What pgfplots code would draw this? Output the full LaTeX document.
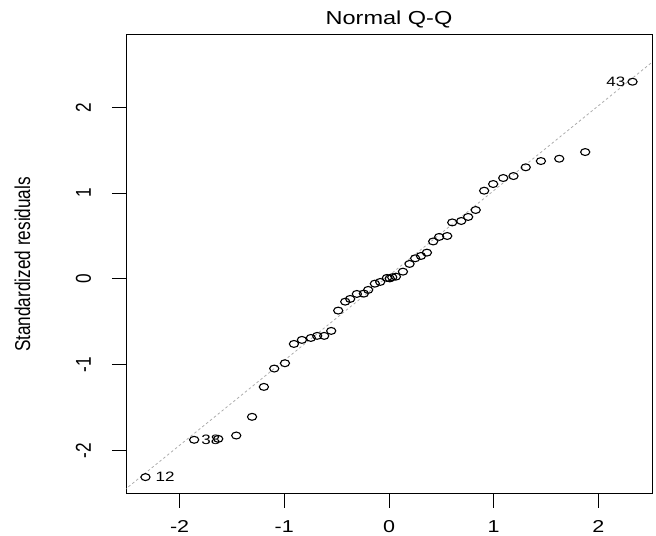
\documentclass[border=0pt]{standalone}
\usepackage{fontspec}
\setmainfont{Liberation Sans}
\usepackage{pgfplots}
\pgfplotsset{compat=1.18}

% R's device squashes text vertically a bit, hence the scales below
\newcommand\rfont{\fontsize{21.5bp}{25bp}\selectfont}
\newcommand\tfont{\fontsize{23.5bp}{27bp}\selectfont}
\newcommand\lfont{\fontsize{17bp}{19bp}\selectfont}

\begin{document}
\begin{tikzpicture}
\path (0,0) rectangle (656bp,536bp);
\begin{axis}[
    at={(126bp,42bp)}, anchor=south west,
    scale only axis, width=526bp, height=459bp,
    xmin=-2.512, xmax=2.512, ymin=-2.508, ymax=2.845,
    xtick={-2,-1,0,1,2}, xticklabels={-2,-1,0,1,2},
    ytick={-2,-1,0,1,2}, yticklabels={-2,-1,0,1,2},
    tick align=outside, tick pos=left,
    major tick length=14bp,
    every tick/.style={black, line width=1bp},
    axis line style={line width=1bp},
    ticklabel style={font=\rfont},
    xticklabel style={yshift=-24bp, anchor=base, yscale=0.8},
    yticklabel style={xshift=-21bp, rotate=90, anchor=base, xscale=0.8},
    title={Normal Q-Q},
    title style={font=\tfont, at={(0.5,1)}, anchor=base, yshift=4.4bp, yscale=0.8},
    ylabel={Standardized residuals},
    ylabel style={font=\rfont, at={(axis description cs:-0.1825,0.5)}, anchor=base, xscale=0.8},
    /pgf/number format/assume math mode=true,
]

% reference line
\addplot[gray!65, dash pattern=on 2.5bp off 2.5bp, line width=0.8bp]
coordinates {(-2.6,-2.534) (2.6,2.614)};

% standardized residuals vs theoretical quantiles
\addplot[only marks, mark=o, mark size=4.6bp,
    mark options={yscale=0.75, line width=1.1bp, black}]
coordinates {
    (-2.326,-2.311) (-1.861,-1.876) (-1.631,-1.865) (-1.459,-1.826)
    (-1.308,-1.608) (-1.195,-1.259) (-1.096,-1.045) (-0.994,-0.983)
    (-0.908,-0.758) (-0.832,-0.711) (-0.746,-0.688) (-0.686,-0.664)
    (-0.619,-0.664) (-0.552,-0.606) (-0.485,-0.369) (-0.418,-0.265)
    (-0.371,-0.233) (-0.307,-0.175) (-0.240,-0.171) (-0.199,-0.128)
    (-0.135,-0.055) (-0.084,-0.035) (-0.020,0.012) (0.007,0.006)
    (0.031,0.020) (0.066,0.027) (0.133,0.085) (0.196,0.175)
    (0.250,0.241) (0.305,0.268) (0.362,0.307) (0.422,0.437)
    (0.479,0.490) (0.556,0.501) (0.604,0.659) (0.690,0.676)
    (0.756,0.723) (0.828,0.804) (0.909,1.029) (0.995,1.107)
    (1.091,1.177) (1.189,1.200) (1.306,1.302) (1.451,1.375)
    (1.626,1.402) (1.874,1.480) (2.326,2.300)
};

\node[font=\lfont, anchor=west, inner sep=1bp, xshift=9bp, yscale=0.8] at (axis cs:-2.326,-2.311) {12};
\node[font=\lfont, anchor=west, inner sep=1bp, xshift=6bp, yscale=0.8] at (axis cs:-1.861,-1.876) {38};
\node[font=\lfont, anchor=east, inner sep=1bp, xshift=-6bp, yscale=0.8] at (axis cs:2.326,2.300) {43};

\end{axis}
\end{tikzpicture}
\end{document}
